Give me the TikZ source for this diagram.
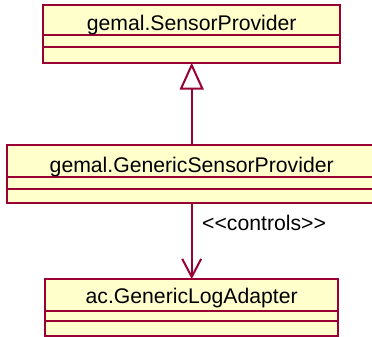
\documentclass[tikz,border=0pt]{standalone}
\usepackage{fontspec}
\setmainfont{Liberation Sans}
\usetikzlibrary{arrows.meta}
\definecolor{umlborder}{HTML}{990033}
\definecolor{umlfill}{HTML}{FFFFCC}
\begin{document}
\begin{tikzpicture}[x=1pt,y=-1pt,
  classbox/.style={draw=umlborder, fill=umlfill, line width=2pt, rectangle, inner sep=0pt, outer sep=0pt, anchor=north west},
  divider/.style={draw=umlborder, line width=2pt},
  title/.style={anchor=base, inner sep=0pt, font=\fontsize{21.2}{24}\selectfont},
  conn/.style={draw=umlborder, line width=2pt}
]
\useasboundingbox (0,0) rectangle (372,337);
\clip (0,0) rectangle (372,337);
\fill[white] (0,0) rectangle (372,337);

% class 1
\node[classbox, minimum width=296.7pt, minimum height=58pt] (b1) at (43.3,4.7) {};
\draw[divider] (43.3,34.7) -- (340,34.7);
\draw[divider] (43.3,47) -- (340,47);
\node[title] (t1) at (191.7,31) {gemal.SensorProvider};

% class 2
\node[classbox, minimum width=368.7pt, minimum height=57.4pt] (b2) at (7.3,145.3) {};
\draw[divider] (7.3,177.3) -- (376,177.3);
\draw[divider] (7.3,189) -- (376,189);
\node[title] (t2) at (191.7,172.3) {gemal.GenericSensorProvider};

% class 3
\node[classbox, minimum width=292.4pt, minimum height=57.3pt] (b3) at (45.3,279) {};
\draw[divider] (45.3,311) -- (337.7,311);
\draw[divider] (45.3,321.3) -- (337.7,321.3);
\node[title] (t3) at (191.7,303.3) {ac.GenericLogAdapter};

% generalization
\draw[conn, -{Triangle[open, length=27pt, width=24pt, line width=2pt]}] (b2.north -| 191.7,0) -- (b1.south -| 191.7,0);

% dependency
\draw[conn, -{Straight Barb[length=18pt, width=19pt, line width=2pt]}] (b2.south -| 191.7,0) -- (b3.north -| 191.7,0);
\node[anchor=base west, inner sep=0pt, font=\fontsize{21.2}{24}\selectfont] (lbl) at (202,230.7) {<{}<controls>{}>};
\end{tikzpicture}
\end{document}
